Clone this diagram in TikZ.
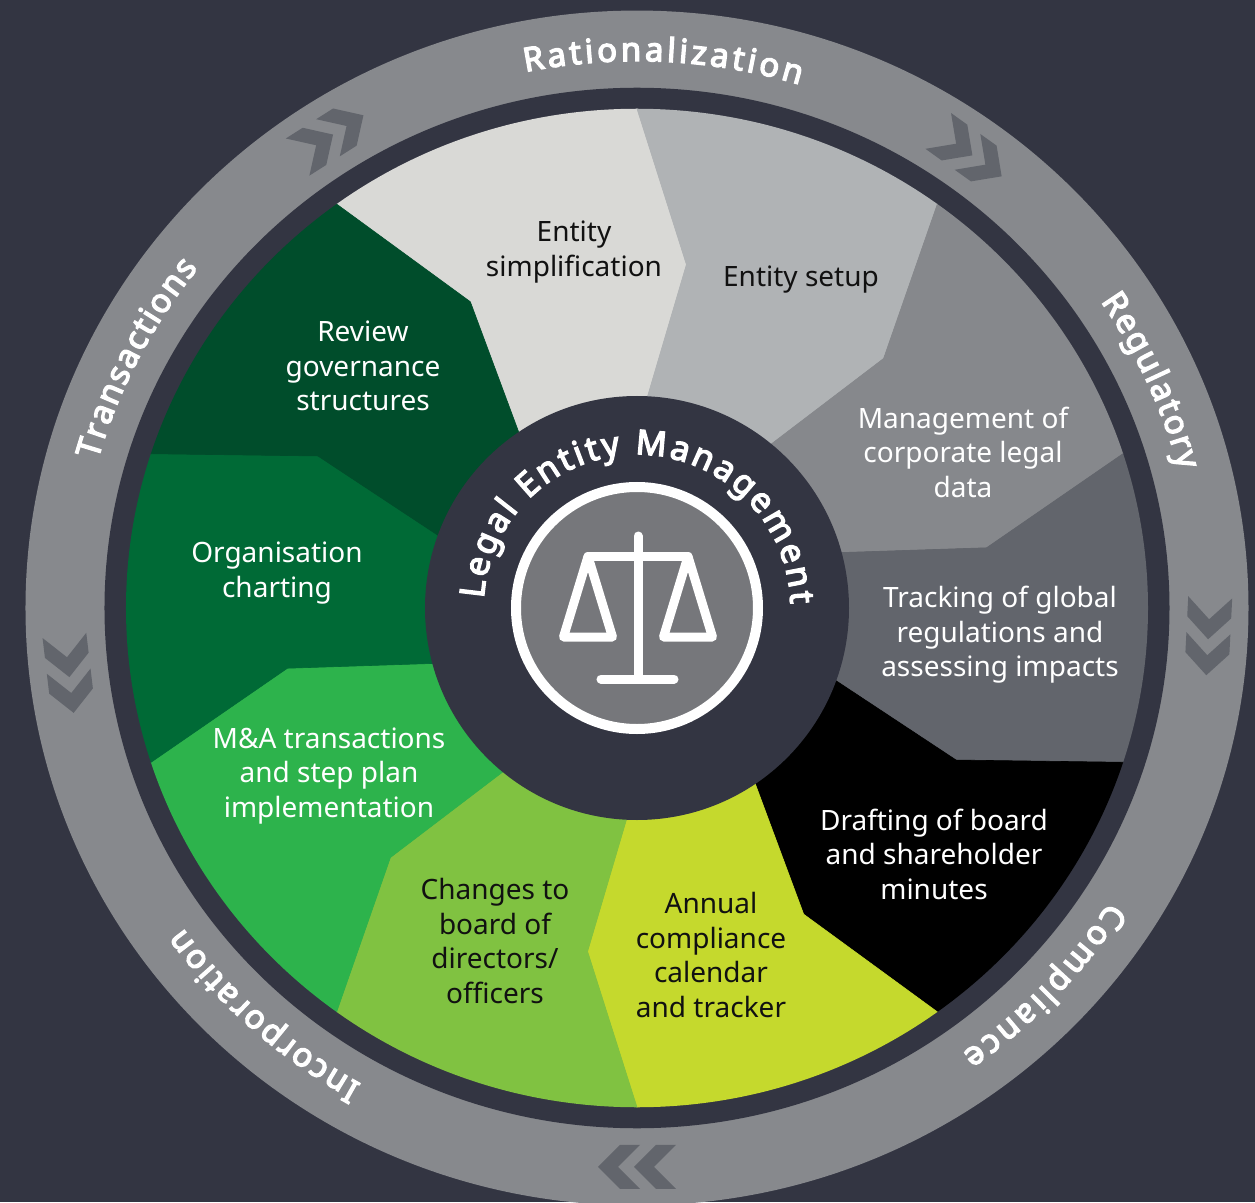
\documentclass[tikz,border=0pt]{standalone}
\usepackage{fontspec}
\setmainfont{Noto Sans}
\newfontfamily\heavyfam{Noto Sans}[FakeBold=4]
\usetikzlibrary{decorations.text}
\definecolor{bgc}{HTML}{333542}
\definecolor{ringc}{HTML}{87898D}
\definecolor{chevc}{HTML}{62656C}
\definecolor{segA}{HTML}{D9D9D6}
\definecolor{segB}{HTML}{B0B3B5}
\definecolor{segC}{HTML}{86888C}
\definecolor{segD}{HTML}{62656C}
\definecolor{segE}{HTML}{000000}
\definecolor{segF}{HTML}{C5D92D}
\definecolor{segG}{HTML}{80C241}
\definecolor{segH}{HTML}{2DB34C}
\definecolor{segI}{HTML}{006A36}
\definecolor{segJ}{HTML}{004D2B}
\definecolor{discc}{HTML}{76777B}
\definecolor{darktext}{HTML}{111111}
\newcommand{\ringfont}{\heavyfam\fontsize{33}{33}\selectfont}
\newcommand{\hubfont}{\heavyfam\fontsize{34}{34}\selectfont}
\tikzset{
  segtext/.style={font=\fontsize{28}{34.5}\selectfont, align=center, inner sep=0pt},
  darklabel/.style={segtext, text=darktext},
  lightlabel/.style={segtext, text=white},
  chevpair/.pic={
    \fill[chevc] (17,22) -- (39,0) -- (17,-22) -- (-3,-22) -- (19,0) -- (-3,22) -- cycle;
    \fill[chevc] (-19,22) -- (3,0) -- (-19,-22) -- (-39,-22) -- (-17,0) -- (-39,22) -- cycle;
  },
  ringlabel/.style={decorate, decoration={text along path, text={|\ringfont|#1}, text align={fit to path}, text color=white}},
  hublabel/.style={decorate, decoration={text along path, text={|\hubfont|#1}, text align={fit to path}, text color=white}},
  iconline/.style={white, line width=9pt, line cap=round, line join=round}
}
\begin{document}
\begin{tikzpicture}[x=1pt,y=1pt]
\useasboundingbox (-637,-594) rectangle (618,608);
\clip (-637,-594) rectangle (618,608);
\fill[bgc] (-637,-594) rectangle (618,608);

% wheel
\begin{scope}[yscale=0.977]
  \fill[ringc] (0,0) circle[radius=611.5];
  \fill[bgc] (0,0) circle[radius=532.5];
  \begin{scope}
    \clip (0,0) circle[radius=511];
    \foreach \a/\c in {126/segA, 90/segB, 54/segC, 18/segD, -18/segE, -54/segF, -90/segG, -126/segH, -162/segI, 162/segJ} {
      \fill[\c, draw=\c, line width=0.6pt] (0,0) -- ({\a-38}:205) -- ({\a-44}:355) -- ({\a-36}:511) -- ({\a-36}:660) -- (\a:660) -- (\a:511) -- ({\a-8}:355) -- ({\a-2}:205) -- cycle;
    }
  \end{scope}
  \pic[rotate=32.4] at (122.4:572) {chevpair};
  \pic[rotate=-35.6] at (54.4:572) {chevpair};
  \pic[rotate=-92.9] at (-2.9:572) {chevpair};
  \pic[rotate=-180] at (-90:572) {chevpair};
  \pic[rotate=-83.2] at (186.8:572) {chevpair};
\end{scope}

% ring labels
\path[ringlabel=Rationalization] (101.5:560 and 547) arc[start angle=101.5, end angle=73.1, x radius=560, y radius=547];
\path[ringlabel=Regulatory] (34.1:560 and 547) arc[start angle=34.1, end angle=14.6, x radius=560, y radius=547];
\path[ringlabel=Compliance] (-32.5:560 and 547) arc[start angle=-32.5, end angle=-54.5, x radius=560, y radius=547];
\path[ringlabel=Incorporation] (-119.5:560 and 547) arc[start angle=-119.5, end angle=-144.2, x radius=560, y radius=547];
\path[ringlabel=Transactions] (164.3:560 and 547) arc[start angle=164.3, end angle=141.6, x radius=560, y radius=547];

% segment texts
\node[darklabel] (simp) at (-63,356) {Entity\\simplification};
\node[darklabel] (setup) at (164,328) {Entity setup};
\node[lightlabel] (mgmt) at (326,156) {Management of\\corporate legal\\data};
\node[lightlabel] (track) at (363,-27) {Tracking of global\\regulations and\\assessing impacts};
\node[lightlabel] (draft) at (297,-246) {Drafting of board\\and shareholder\\minutes};
\node[darklabel] (annual) at (74,-347) {Annual\\compliance\\calendar\\and tracker};
\node[darklabel] (changes) at (-142,-333) {Changes to\\board of\\directors/\\officers};
\node[lightlabel] (manda) at (-308,-168) {M\&A transactions\\and step plan\\implementation};
\node[lightlabel] (org) at (-360,35) {Organisation\\charting};
\node[lightlabel] (review) at (-274,242) {Review\\governance\\structures};

% hub
\fill[bgc] (0,0) circle[radius=212];
\fill[discc] (0,0) circle[radius=121];
\draw[white, line width=10pt] (0,0) circle[radius=121];
\path[hublabel={Legal Entity Management}] (176.5:153.5) arc[start angle=176.5, end angle=1.5, radius=153.5];

% scales icon
\draw[iconline] (1,72) -- (1,-71);
\draw[iconline] (-36,-71) -- (37,-71);
\draw[iconline] (-49,51.5) -- (51,51.5);
\draw[iconline] (-49,51.5) -- (-73.5,-29) -- (-24.5,-29) -- cycle;
\draw[iconline] (51,51.5) -- (26.5,-29) -- (75.5,-29) -- cycle;
\end{tikzpicture}
\end{document}
